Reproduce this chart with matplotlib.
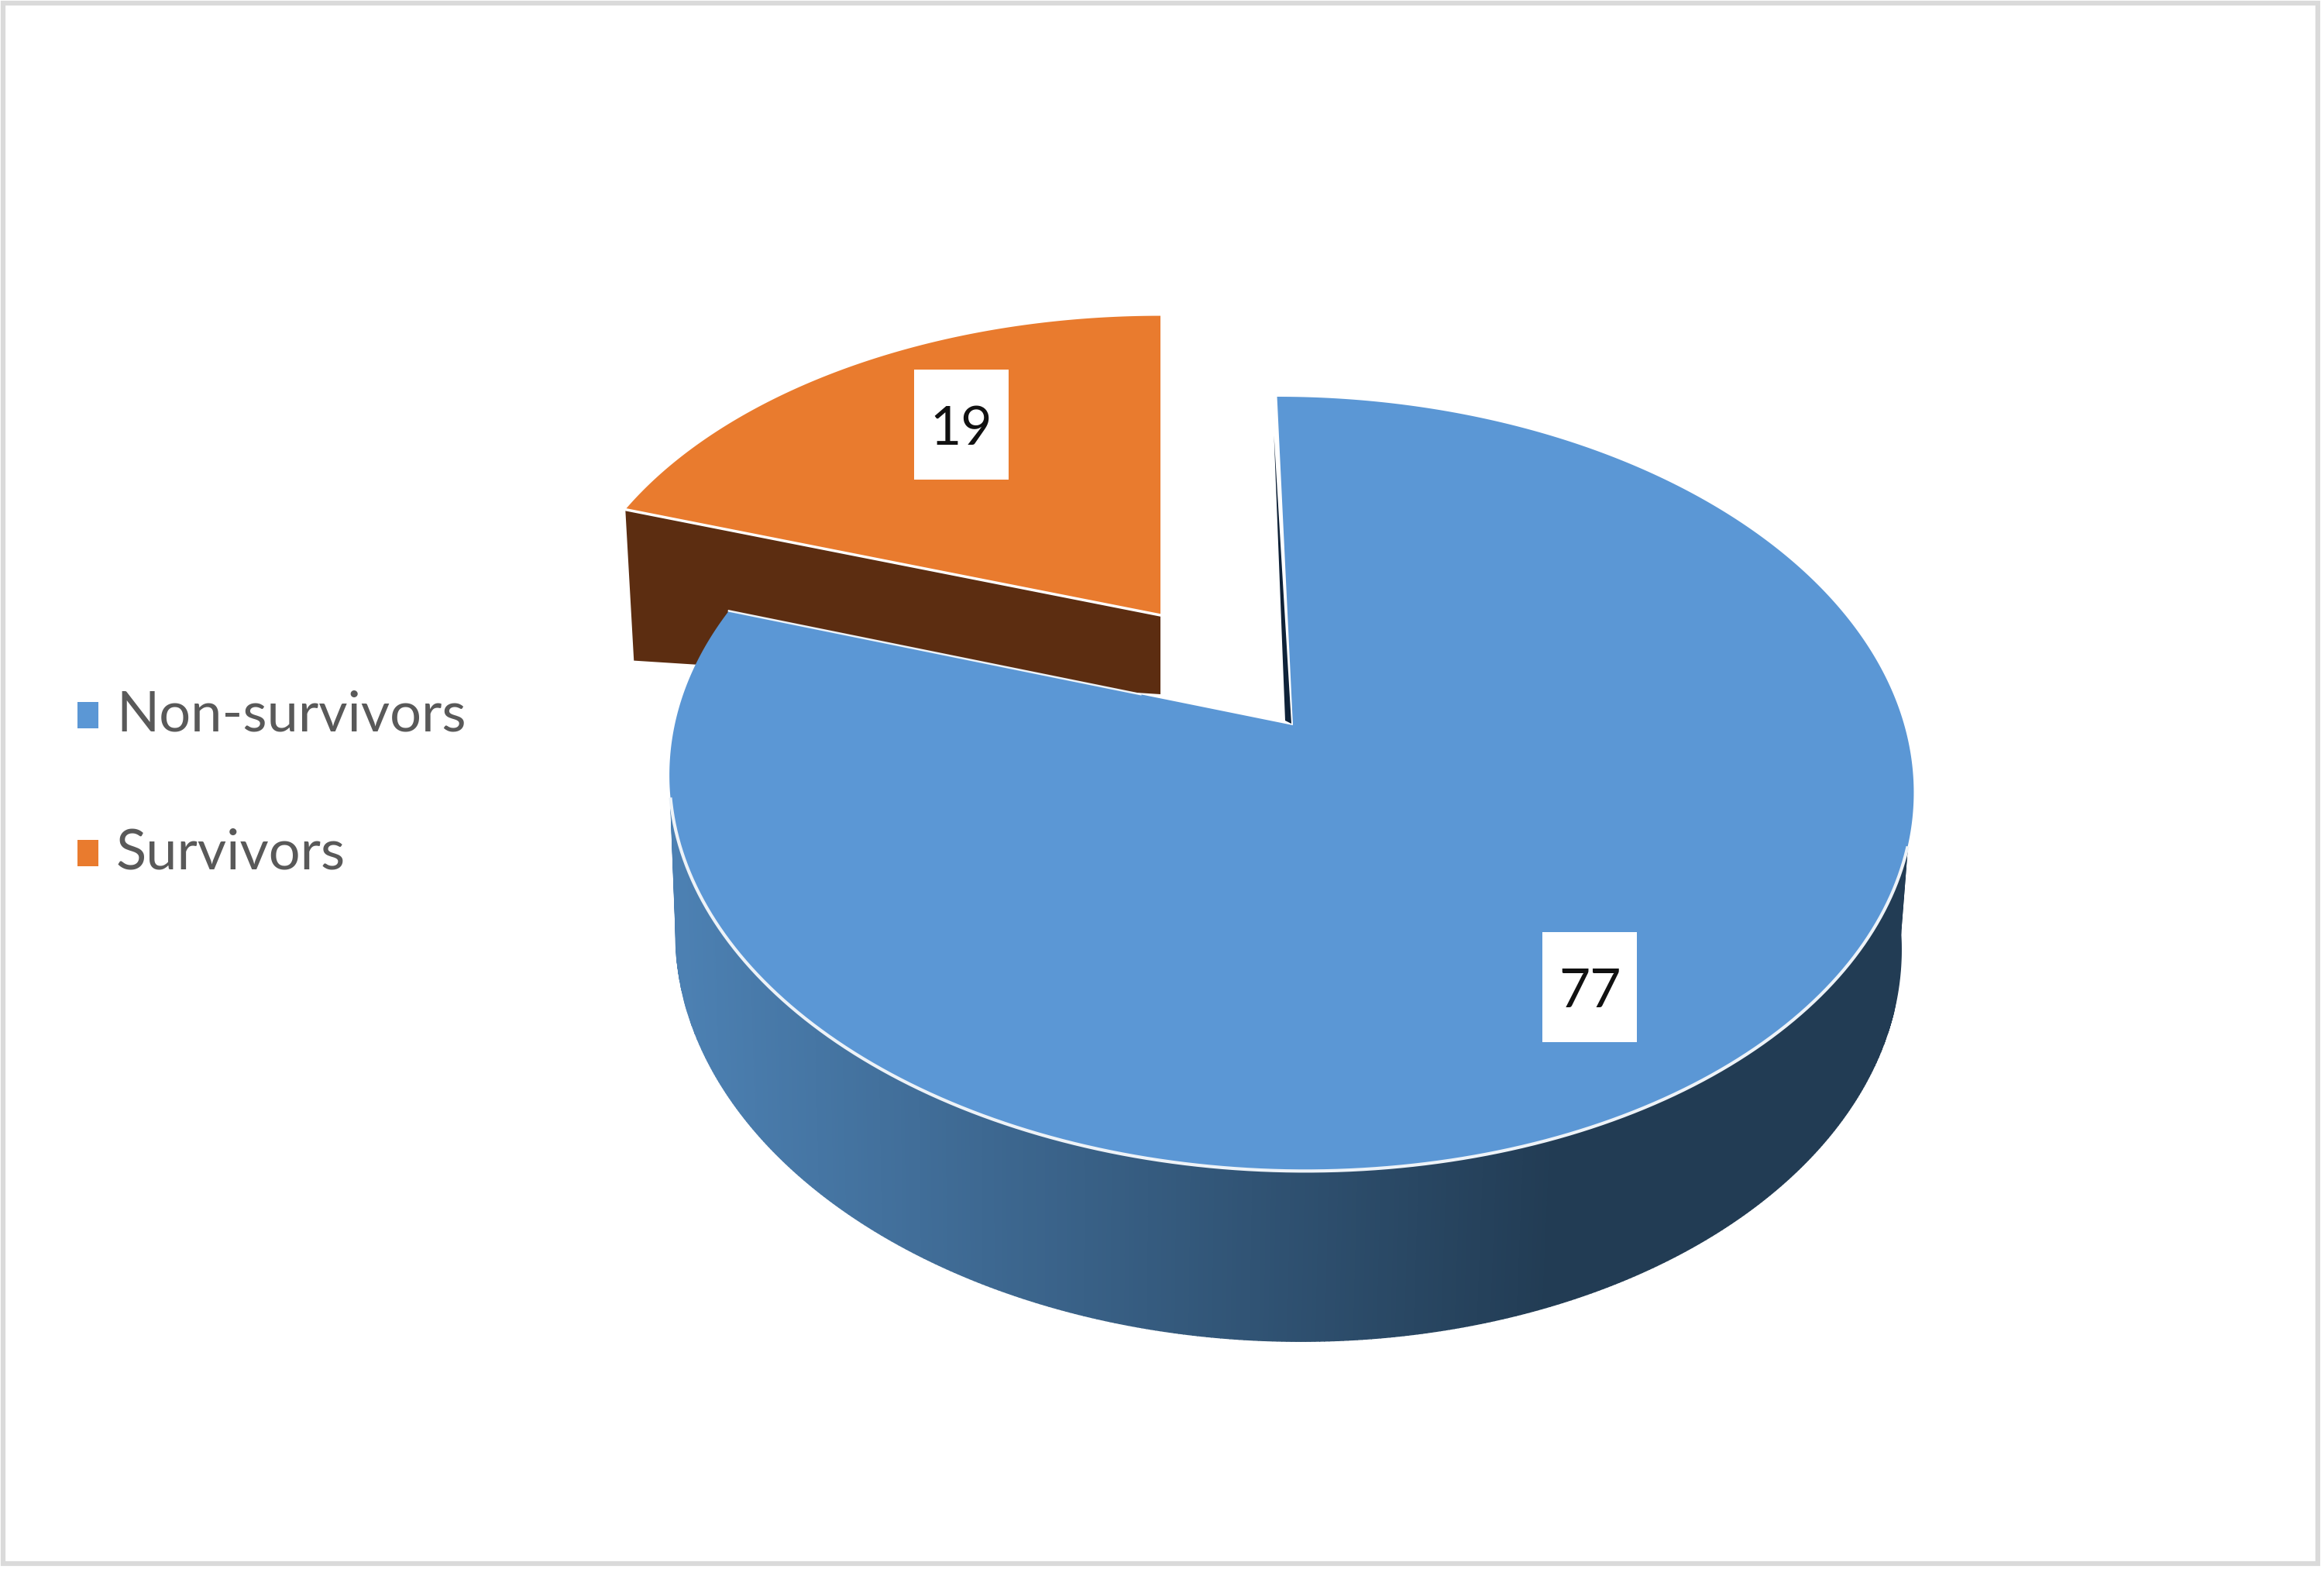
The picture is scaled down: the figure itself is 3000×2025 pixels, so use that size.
import numpy as np
import matplotlib
matplotlib.use("Agg")
from matplotlib import pyplot as plt
from matplotlib.colors import to_rgb
from matplotlib.patches import Polygon, Rectangle

categories = ["Non-survivors", "Survivors"]
values = [77, 19]
colors = ["#5B97D5", "#E97B2E"]
value_label_pos = [(2052, 1274), (1241, 548)]

plt.rcParams["font.family"] = ["Lato", "DejaVu Sans"]

fig = plt.figure(figsize=(30, 20.25), dpi=100)
ax = fig.add_axes([0, 0, 1, 1])
ax.set_xlim(0, 3000)
ax.set_ylim(2025, 0)
ax.axis("off")

PERSP = 0.1516
TILT = np.radians(1.3)


# tilted circle with perspective, so the apex is not the middle of the ellipse
def project(theta, apex, a, b, tilt=TILT):
    t = np.radians(theta)
    w = 1 + PERSP * np.sin(t)
    dx = a * np.cos(t) / w
    dy = -b * np.sin(t) / w
    return (apex[0] + dx * np.cos(tilt) - dy * np.sin(tilt),
            apex[1] + dx * np.sin(tilt) + dy * np.cos(tilt))


def arc(t1, t2, apex, a, b, tilt=TILT, n=300):
    xs, ys = project(np.linspace(t1, t2, n), apex, a, b, tilt)
    return np.column_stack([xs, ys])


sweep = [360.0 * v / sum(values) for v in values]

# frame
ax.add_patch(Rectangle((4, 4), 2988, 2014, fc="white", ec="#DADADA", lw=4.5, zorder=0))

######## Survivors slice, pulled out ########
s_apex = (1498, 794)
s_a, s_b = 765, 445
s_start = 90.0
s_end = s_start + sweep[1]
left_top = project(s_end, s_apex, s_a, s_b, 0)
side = [s_apex, left_top,
        (left_top[0] + 11, left_top[1] + 195),
        (s_apex[0], s_apex[1] + 102)]
ax.add_patch(Polygon(side, fc="#5C2D11", ec="none", zorder=1))
top_pts = np.vstack([[s_apex], arc(s_start, s_end, s_apex, s_a, s_b, 0)])
ax.add_patch(Polygon(top_pts, fc=colors[1], ec="none", zorder=2))
ax.plot([left_top[0], s_apex[0]], [left_top[1], s_apex[1]], color="white", lw=2.5, zorder=3)

######## Non-survivors slice ########
apex = (1669, 936)
a, b = 794, 488
low_apex = (1665, 1137)
low_a, low_b = 782, 504
b_start = 92.5
b_end = b_start - sweep[0]

# side wall, strips going dark from left to right
dark = np.array(to_rgb("#223C54"))
light = np.array(to_rgb("#4C80B2"))
wall_t = np.linspace(-16, -167, 400)
for t1, t2 in zip(wall_t[:-1], wall_t[1:]):
    p1 = project(t1, apex, a, b)
    p2 = project(t2, apex, a, b)
    p3 = project(t2, low_apex, low_a, low_b)
    p4 = project(t1, low_apex, low_a, low_b)
    f = np.clip((p1[0] - 880) / (2010 - 880), 0, 1)
    c = light + (dark - light) * f
    ax.add_patch(Polygon([p1, p2, p3, p4], fc=c, ec=c, lw=1, zorder=4))

# both ends of the wall run on to the widest part of the lower rim
right_end = np.vstack([[project(-16, apex, a, b)], arc(-16, -3, low_apex, low_a, low_b)])
left_end = np.vstack([[project(-167, apex, a, b)], arc(-167, -179, low_apex, low_a, low_b)])
ax.add_patch(Polygon(right_end, fc=dark, ec=dark, lw=1, zorder=4))
ax.add_patch(Polygon(left_end, fc=light, ec=light, lw=1, zorder=4))

# thin inner face at the start of the slice
rim_x, rim_y = project(b_start, apex, a, b)
ax.add_patch(Polygon([(rim_x - 4, rim_y + 50), (apex[0] - 2, apex[1] - 2), (apex[0] - 10, apex[1] - 6)],
                     fc="#0F2238", ec="none", zorder=4))

blue_pts = np.vstack([[apex], arc(b_start, b_end, apex, a, b, n=600)])
ax.add_patch(Polygon(blue_pts, fc=colors[0], ec="none", zorder=5))

# white line on the front rim and along the edge over the brown wall
rim = arc(-16, -167, apex, a, b)
ax.plot(rim[:, 0], rim[:, 1], color="#EEF3F8", lw=3, zorder=6)
end_x, end_y = project(b_end, apex, a, b)
ax.plot([end_x, end_x + 0.73 * (apex[0] - end_x)], [end_y, end_y + 0.73 * (apex[1] - end_y)],
        color="#EEF3F8", lw=1.8, zorder=6)

######## value labels ########
for v, (x, y) in zip(values, value_label_pos):
    ax.add_patch(Rectangle((x - 61, y - 71), 122, 142, fc="white", ec="none", zorder=7))
    ax.text(x, y + 7, str(v), ha="center", va="center", fontsize=50, color="#111111", zorder=8)

######## legend ########
legend_y = [923, 1101]
for name, c, y in zip(categories, colors, legend_y):
    ax.add_patch(Rectangle((100, y - 17), 27, 34, fc=c, ec="none", zorder=2))
    ax.text(150, y, name, ha="left", va="center", fontsize=52, color="#595959", zorder=2)

plt.savefig("out.png", dpi=100)
